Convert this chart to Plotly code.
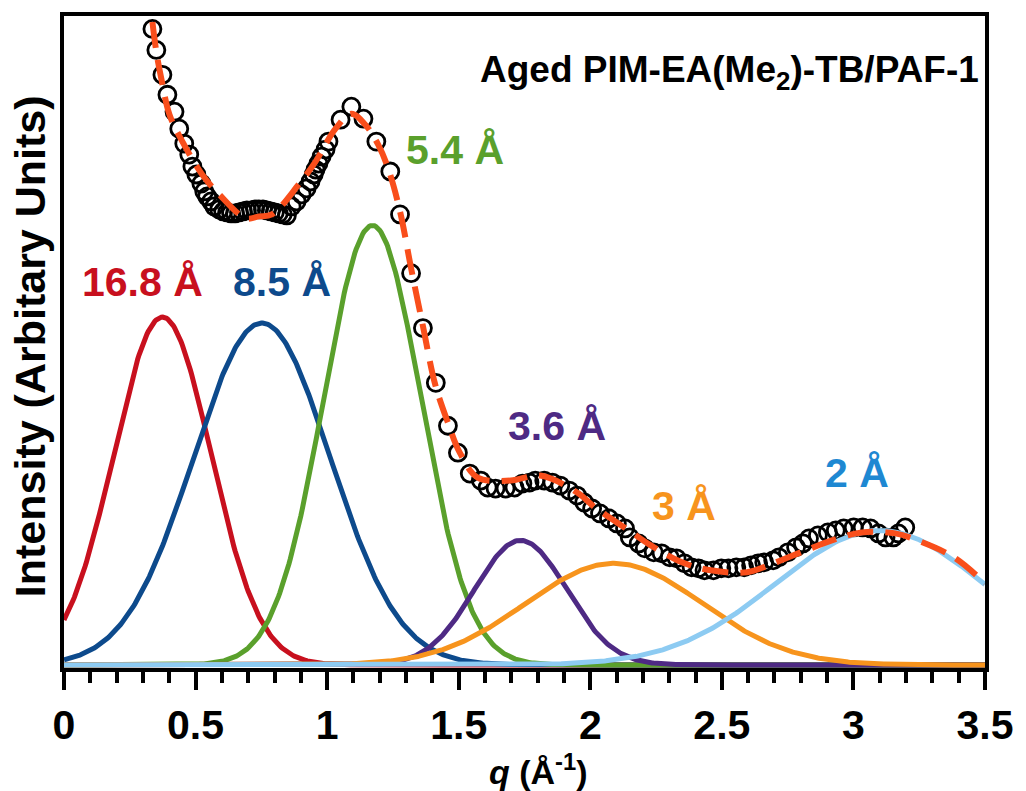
import numpy as np
import plotly.graph_objects as go

# ---- data ----
# measured points: q (1/Å) and intensity (arbitrary units)
data_q = [0.336, 0.351, 0.374, 0.393, 0.420, 0.438, 0.457, 0.476, 0.488, 0.503,
          0.522, 0.533, 0.544, 0.559, 0.571, 0.590, 0.605, 0.620, 0.635, 0.650,
          0.665, 0.680, 0.695, 0.711, 0.726, 0.741, 0.756, 0.771, 0.786, 0.801,
          0.816, 0.831, 0.847, 0.865, 0.884, 0.903, 0.922, 0.937, 0.949, 0.956,
          0.967, 0.979, 0.994, 1.005, 1.051, 1.092, 1.138, 1.187, 1.240, 1.277,
          1.319, 1.364, 1.413, 1.459, 1.497, 1.542, 1.584, 1.610, 1.640, 1.678,
          1.712, 1.742, 1.769, 1.791, 1.825, 1.856, 1.886, 1.920, 1.950, 1.977,
          2.007, 2.037, 2.071, 2.101, 2.132, 2.150, 2.184, 2.207, 2.241, 2.271,
          2.302, 2.328, 2.358, 2.385, 2.411, 2.434, 2.468, 2.498, 2.525, 2.555,
          2.585, 2.611, 2.638, 2.661, 2.695, 2.717, 2.751, 2.782, 2.808, 2.831,
          2.865, 2.903, 2.933, 2.963, 3.001, 3.035, 3.065, 3.095, 3.122, 3.152,
          3.171, 3.197]
data_i = [638, 617, 592, 572, 555, 538, 523, 512, 500, 492,
          483, 475, 470, 465, 460, 457, 455, 454, 453, 453,
          454, 455, 456, 456, 457, 457, 457, 456, 455, 454,
          453, 452, 451, 460, 465, 472, 478, 485, 492, 497,
          503, 510, 517, 525, 547, 560, 548, 525, 495, 452,
          393, 338, 283, 240, 213, 192, 185, 178, 177, 177,
          178, 182, 183, 185, 185, 183, 180, 175, 170, 163,
          157, 152, 147, 142, 137, 128, 122, 117, 113, 112,
          108, 107, 102, 98, 97, 95, 95, 97, 97, 98,
          98, 100, 102, 103, 105, 108, 113, 118, 122, 127,
          130, 133, 135, 137, 138, 138, 137, 132, 128, 128,
          132, 138]

# overall fit curve
fit_q = [0.336, 0.351, 0.370, 0.401, 0.450, 0.525, 0.590, 0.692, 0.741, 0.790,
         0.892, 0.956, 1.032, 1.092, 1.145, 1.194, 1.232, 1.277, 1.319, 1.364,
         1.410, 1.459, 1.504, 1.572, 1.697, 1.810, 1.950, 2.018, 2.147, 2.230,
         2.358, 2.457, 2.596, 2.695, 2.819, 2.918, 3.031, 3.159, 3.243, 3.382, 3.500]
fit_i = [645, 615, 588, 552, 525, 492, 472, 448, 450, 452,
         482, 505, 538, 553, 542, 522, 498, 455, 398, 340,
         282, 243, 213, 188, 185, 190, 173, 158, 135, 120,
         102, 95, 93, 102, 115, 125, 133, 132, 125, 108, 82]

# Gaussian components: label, centre q, height, width (sigma)
peak_labels = ["16.8 Å", "8.5 Å", "5.4 Å", "3.6 Å", "3 Å", "2 Å"]
peak_centers = [0.374, 0.752, 1.172, 1.735, 2.090, 3.100]
peak_heights = [349, 343, 441, 125, 102, 135]
peak_sigmas = [0.185, 0.260, 0.185, 0.175, 0.335, 0.395]

# ---- styles ----
curve_colors = ["#C8101E", "#0D4A8C", "#5AA02C", "#4E2A84", "#F7941D", "#8DCBF2"]
label_colors = ["#C8101E", "#0D4A8C", "#5AA02C", "#4E2A84", "#F7941D", "#1E88D2"]
label_pos = [(0.299, 384), (0.828, 384), (1.485, 517), (1.875, 240), (2.358, 160), (3.015, 193)]
FONT = "Liberation Sans, Arial, sans-serif"

q_grid = np.linspace(0, 3.5, 701)

fig = go.Figure()

fig.add_trace(go.Scatter(x=data_q, y=data_i, mode="markers",
                         marker=dict(symbol="circle-open", size=17, color="black",
                                     line=dict(width=2.8, color="black")),
                         showlegend=False))

for c, h, s, col in zip(peak_centers, peak_heights, peak_sigmas, curve_colors):
    yv = h * np.exp(-(q_grid - c) ** 2 / (2 * s ** 2))
    fig.add_trace(go.Scatter(x=q_grid, y=yv, mode="lines",
                             line=dict(color=col, width=5), showlegend=False))

fig.add_trace(go.Scatter(x=fit_q, y=fit_i, mode="lines", line_shape="spline",
                         line=dict(color="#F94E1B", width=6, dash="26px,12px"),
                         showlegend=False))

for lab, col, (lx, ly) in zip(peak_labels, label_colors, label_pos):
    fig.add_annotation(x=lx, y=ly, text=lab, showarrow=False,
                       font=dict(family=FONT, size=41, color=col, weight="bold"),
                       xanchor="center", yanchor="middle")

fig.add_annotation(x=3.485, y=595, text="Aged PIM-EA(Me<sub>2</sub>)-TB/PAF-1",
                   showarrow=False, xanchor="right", yanchor="middle",
                   font=dict(family=FONT, size=37, color="black", weight="bold"))

fig.add_annotation(xref="paper", yref="paper", x=(541 - 64) / 926, y=(668 - 770) / 654,
                   text="<i>q</i> (Å<sup>-1</sup>)", showarrow=False,
                   xanchor="center", yanchor="middle",
                   font=dict(family=FONT, size=34, color="black", weight="bold"))

fig.add_annotation(xref="paper", yref="paper", x=(30 - 64) / 926, y=(668 - 345) / 654,
                   text="Intensity (Arbitary Units)", textangle=-90, showarrow=False,
                   xanchor="center", yanchor="middle",
                   font=dict(family=FONT, size=43, color="black", weight="bold"))

fig.update_layout(
    width=1026, height=791,
    margin=dict(l=64, r=36, t=14, b=123, pad=0),
    paper_bgcolor="white", plot_bgcolor="white",
    xaxis=dict(range=[0, 3.5], tickvals=[0, 0.5, 1, 1.5, 2, 2.5, 3, 3.5],
               ticktext=["0", "0.5", "1", "1.5", "2", "2.5", "3", "3.5"],
               ticks="outside", ticklen=18, tickwidth=4, tickcolor="black",
               minor=dict(dtick=0.1, tick0=0, ticks="outside", ticklen=11,
                          tickwidth=3.5, tickcolor="black", showgrid=False),
               showline=True, linewidth=4, linecolor="black", mirror=True,
               showgrid=False, zeroline=False,
               tickfont=dict(family=FONT, size=41, color="black", weight="bold")),
    yaxis=dict(range=[-3, 651], showticklabels=False, ticks="",
               showline=True, linewidth=4, linecolor="black", mirror=True,
               showgrid=False, zeroline=False),
)

fig.write_html("out.html")
